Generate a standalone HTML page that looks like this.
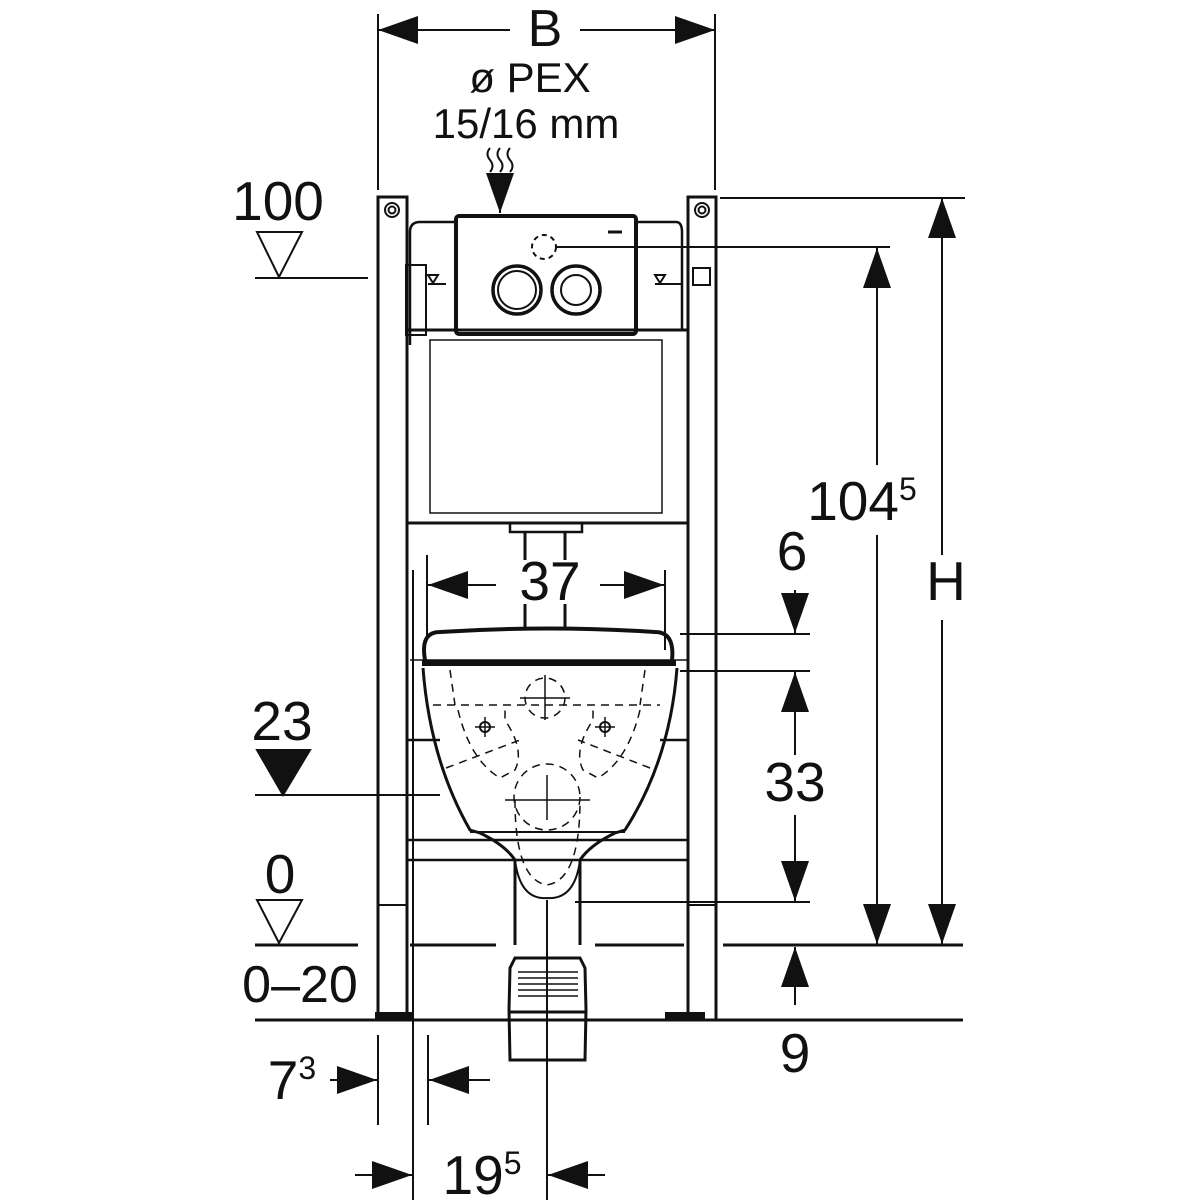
<!DOCTYPE html>
<html><head><meta charset="utf-8"><style>html,body{margin:0;padding:0;background:#fff}svg{display:block}</style></head>
<body>
<svg width="1200" height="1200" viewBox="0 0 1200 1200" xmlns="http://www.w3.org/2000/svg" font-family="Liberation Sans, sans-serif" fill="none" stroke="#111">
<defs>
<marker id="a" viewBox="0 0 20 20" refX="20" refY="10" markerWidth="40" markerHeight="28" markerUnits="userSpaceOnUse" orient="auto" preserveAspectRatio="none"><path d="M0,0 L20,10 L0,20 Z" fill="#111" stroke="none"/></marker>
</defs>
<g stroke-width="2">
<line x1="378" y1="14" x2="378" y2="190"/><line x1="715" y1="14" x2="715" y2="190"/>
<line x1="510" y1="30" x2="378" y2="30" marker-end="url(#a)"/>
<line x1="580" y1="30" x2="715" y2="30" marker-end="url(#a)"/>
</g>
<g fill="#111" stroke="none" text-anchor="middle">
<text x="545" y="46" font-size="52">B</text>
<text x="530" y="92" font-size="42">ø PEX</text>
<text x="526" y="138" font-size="42">15/16 mm</text>
<text x="278" y="220" font-size="55">100</text>
<text x="282" y="740" font-size="55">23</text>
<text x="280" y="893" font-size="55">0</text>
<text x="300" y="1002" font-size="52">0–20</text>
<text x="862" y="520" font-size="55">104<tspan font-size="32" dy="-20">5</tspan></text>
<text x="946" y="600" font-size="55">H</text>
<text x="792" y="570" font-size="55">6</text>
<text x="795" y="801" font-size="55">33</text>
<text x="795" y="1072" font-size="55">9</text>
<text x="550" y="600" font-size="55">37</text>
<text x="292" y="1099" font-size="55">7<tspan font-size="32" dy="-20">3</tspan></text>
<text x="482" y="1194" font-size="55">19<tspan font-size="32" dy="-20">5</tspan></text>
</g>
<g stroke-width="2">
<path d="M490,148 q-5,6 0,12 q5,6 0,12 M500,148 q-5,6 0,12 q5,6 0,12 M510,148 q-5,6 0,12 q5,6 0,12"/>
<line x1="500" y1="180" x2="500" y2="213" marker-end="url(#a)"/>
<path d="M257,232 L302,232 L279,277 Z"/><line x1="255" y1="278" x2="368" y2="278"/>
<path d="M257,750 L310,750 L283,795 Z" fill="#111"/><line x1="255" y1="795" x2="440" y2="795"/>
<path d="M257,900 L302,900 L279,943 Z"/>
<g stroke-width="3">
<line x1="255" y1="945" x2="358" y2="945"/><line x1="410" y1="945" x2="496" y2="945"/>
<line x1="595" y1="945" x2="684" y2="945"/><line x1="723" y1="945" x2="963" y2="945"/>
<line x1="255" y1="1020" x2="963" y2="1020"/>
</g>
<rect x="378" y="197" width="29" height="823" stroke-width="3"/>
<rect x="688" y="197" width="28" height="823" stroke-width="3"/>
<line x1="378" y1="905" x2="407" y2="905"/><line x1="688" y1="905" x2="716" y2="905"/>
<circle cx="392" cy="210" r="7"/><circle cx="392" cy="210" r="3.5"/>
<circle cx="702" cy="210" r="7"/><circle cx="702" cy="210" r="3.5"/>
<rect x="376" y="1013" width="36" height="7" fill="#111"/><rect x="666" y="1013" width="38" height="7" fill="#111"/>
<path d="M410,345 L410,232 Q410,222 420,222 L456,222 M636,222 L676,222 Q682,222 682,232 L682,330" stroke-width="2.5"/>
<rect x="407" y="330" width="281" height="193" stroke-width="3"/>
<rect x="430" y="340" width="232" height="173" stroke-width="1.5"/>
<rect x="406" y="265" width="20" height="70"/>
<line x1="407" y1="523" x2="688" y2="523" stroke-width="3"/>
<path d="M510,523 L510,532 L582,532 L582,523" stroke-width="2.5"/>
<line x1="525" y1="532" x2="525" y2="560" stroke-width="3"/><line x1="565" y1="532" x2="565" y2="560" stroke-width="3"/>
<line x1="525" y1="604" x2="525" y2="630" stroke-width="3"/><line x1="565" y1="604" x2="565" y2="630" stroke-width="3"/>
<path d="M428,275 L438,275 L433,283 Z M655,275 L665,275 L660,283 Z"/>
<line x1="428" y1="284" x2="446" y2="284"/><line x1="655" y1="284" x2="682" y2="284"/>
<rect x="693" y="268" width="17" height="17"/>
<rect x="456" y="216" width="180" height="118" rx="3" stroke-width="4"/>
<circle cx="517" cy="290" r="24" stroke-width="3.5"/><circle cx="517" cy="290" r="19"/>
<circle cx="576" cy="290" r="24" stroke-width="3.5"/><circle cx="576" cy="290" r="15"/>
<circle cx="544" cy="247" r="12" stroke-dasharray="5,4"/>
<line x1="556" y1="247" x2="890" y2="247"/>
<line x1="608" y1="232" x2="622" y2="232" stroke-width="3"/>
<line x1="407" y1="840" x2="688" y2="840" stroke-width="2.5"/><line x1="407" y1="860" x2="688" y2="860" stroke-width="2.5"/>
<line x1="407" y1="740" x2="440" y2="740" stroke-width="2.5"/><line x1="660" y1="740" x2="688" y2="740" stroke-width="2.5"/>
<line x1="413" y1="570" x2="413" y2="1200"/>
<line x1="410" y1="660" x2="688" y2="660" stroke-width="1.5"/>
<path d="M425,660 Q420,632 440,632 Q550,625 655,632 Q675,632 672,660" stroke-width="4"/>
<line x1="422" y1="663" x2="676" y2="663" stroke-width="6"/>
<path d="M423,668 Q430,760 470,830 L480,833 Q505,845 515,860 L515,945 M677,668 Q670,760 625,830 L615,833 Q590,845 580,860 L580,945" stroke-width="3"/>
<line x1="470" y1="832" x2="625" y2="832" stroke-width="2"/>
<path d="M515,860 Q520,900 547,898 Q575,900 580,860"/>
<g stroke-dasharray="8,6" stroke-width="1.5">
<line x1="433" y1="705" x2="660" y2="705"/>
<path d="M450,670 L455,705 M645,670 L640,705"/>
<circle cx="545" cy="698" r="20"/>
<path d="M458,710 Q470,760 500,778 L515,770 Q525,750 505,720 L505,705"/>
<path d="M640,710 Q628,760 598,778 L583,770 Q573,750 593,720 L593,705"/>
<path d="M446,768 L520,740 M650,768 L578,740"/>
<circle cx="547" cy="797" r="33"/>
<path d="M515,800 Q515,880 547,885 Q580,880 580,800"/>
</g>
<path d="M475,727 h20 M485,717 v20 M595,727 h20 M605,717 v20 M520,698 h50 M545,675 v45 M505,800 h85 M547,775 v45" stroke-width="1.5"/>
<circle cx="485" cy="727" r="5"/><circle cx="605" cy="727" r="5"/>
<path d="M509,1010 L510,968 L515,958 L580,958 L585,968 L586,1010 L585,1060 L510,1060 Z" stroke-width="3"/>
<line x1="509" y1="1012" x2="586" y2="1012" stroke-width="3"/>
<path d="M518,972 h60 M518,978 h60 M518,984 h60 M518,990 h60 M518,996 h60" stroke-width="1.5"/>
<line x1="547" y1="900" x2="547" y2="1200"/>
<line x1="575" y1="902" x2="810" y2="902"/>
<line x1="720" y1="198" x2="965" y2="198"/>
<line x1="942" y1="555" x2="942" y2="198" marker-end="url(#a)"/>
<line x1="942" y1="620" x2="942" y2="944" marker-end="url(#a)"/>
<line x1="877" y1="465" x2="877" y2="248" marker-end="url(#a)"/>
<line x1="877" y1="535" x2="877" y2="944" marker-end="url(#a)"/>
<line x1="680" y1="634" x2="810" y2="634"/><line x1="680" y1="671" x2="810" y2="671"/>
<line x1="795" y1="590" x2="795" y2="633" marker-end="url(#a)"/>
<line x1="795" y1="755" x2="795" y2="672" marker-end="url(#a)"/>
<line x1="795" y1="815" x2="795" y2="901" marker-end="url(#a)"/>
<line x1="795" y1="1005" x2="795" y2="947" marker-end="url(#a)"/>
<line x1="427" y1="555" x2="427" y2="640"/><line x1="665" y1="570" x2="665" y2="650"/>
<line x1="496" y1="585" x2="428" y2="585" marker-end="url(#a)"/>
<line x1="600" y1="585" x2="664" y2="585" marker-end="url(#a)"/>
<line x1="378" y1="1035" x2="378" y2="1125"/><line x1="428" y1="1035" x2="428" y2="1125"/>
<line x1="330" y1="1080" x2="377" y2="1080" marker-end="url(#a)"/>
<line x1="490" y1="1080" x2="429" y2="1080" marker-end="url(#a)"/>
<line x1="355" y1="1175" x2="412" y2="1175" marker-end="url(#a)"/>
<line x1="605" y1="1175" x2="548" y2="1175" marker-end="url(#a)"/>
</g>
</svg>
</body></html>
